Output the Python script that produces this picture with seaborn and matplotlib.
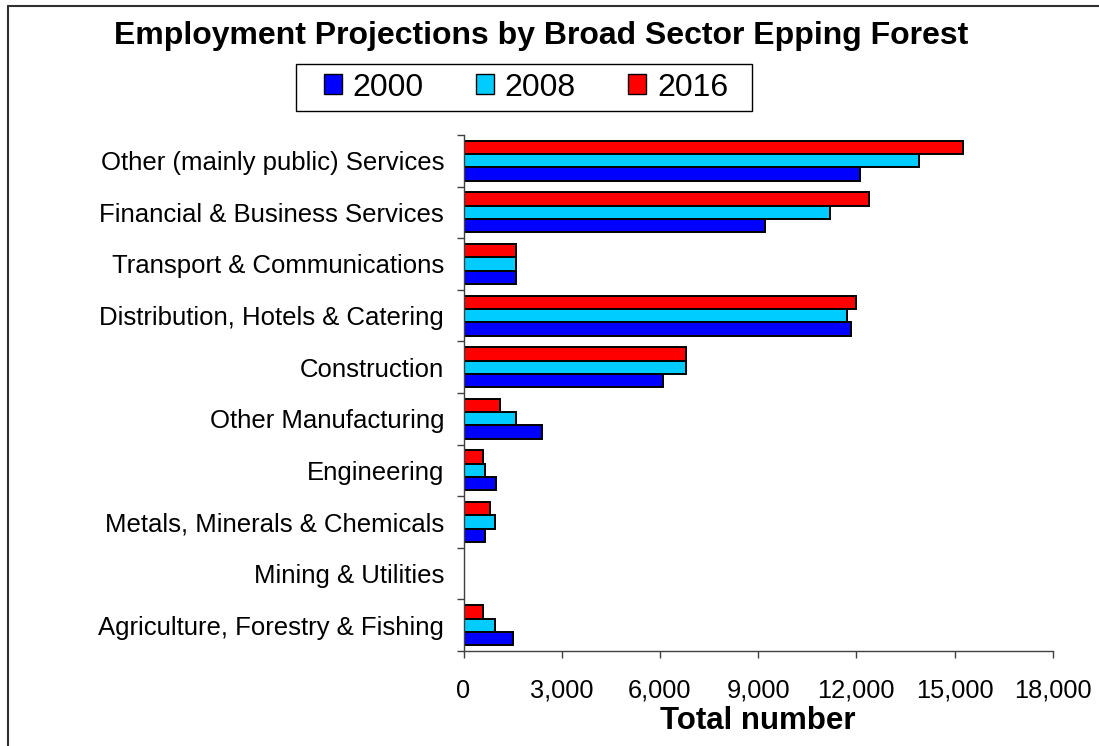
import matplotlib
matplotlib.use("Agg")
import matplotlib.pyplot as plt
import matplotlib.patches as mpatches
from matplotlib.lines import Line2D
import pandas as pd
import seaborn as sns

sectors = [
    "Other (mainly public) Services",
    "Financial & Business Services",
    "Transport & Communications",
    "Distribution, Hotels & Catering",
    "Construction",
    "Other Manufacturing",
    "Engineering",
    "Metals, Minerals & Chemicals",
    "Mining & Utilities",
    "Agriculture, Forestry & Fishing",
]
years = ["2000", "2008", "2016"]
emp_2000 = [12100, 9200, 1600, 11850, 6100, 2400, 1000, 650, 0, 1500]
emp_2008 = [13900, 11200, 1600, 11700, 6800, 1600, 650, 950, 0, 950]
emp_2016 = [15250, 12400, 1600, 12000, 6800, 1100, 600, 800, 0, 600]
colors = {"2000": "#0000FF", "2008": "#00CCFF", "2016": "#FF0000"}

df = pd.DataFrame({
    "sector": sectors * 3,
    "year": ["2000"] * 10 + ["2008"] * 10 + ["2016"] * 10,
    "value": emp_2000 + emp_2008 + emp_2016,
})

sns.set_theme(style="white")
plt.rcParams["font.family"] = ["Liberation Sans", "DejaVu Sans"]
plt.rcParams["text.color"] = "black"
plt.rcParams["axes.labelcolor"] = "black"
plt.rcParams["xtick.color"] = "black"
plt.rcParams["ytick.color"] = "black"

fig = plt.figure(figsize=(10.99, 7.46), dpi=100)
ax = fig.add_axes([463.5 / 1099, 1 - 651 / 746, (1052.8 - 463.5) / 1099, (651 - 135) / 746])

sns.barplot(data=df, y="sector", x="value", hue="year", order=sectors,
            hue_order=["2016", "2008", "2000"], palette=colors, orient="h",
            width=0.775, edgecolor="black", linewidth=1.4, ax=ax, legend=False,
            errorbar=None, saturation=1)

ax.set_xlim(0, 18000)
ax.set_ylim(len(sectors) - 0.5, -0.5)
ax.set_xticks(range(0, 18001, 3000))
ax.set_xticklabels([f"{v:,}" for v in range(0, 18001, 3000)], fontsize=18.3)
ax.tick_params(axis="x", direction="out", length=5, width=1, color="#404040", pad=15, bottom=True,
               labelcolor="black")
ax.set_yticks(range(len(sectors)))
ax.set_yticklabels(sectors, fontsize=18.5)
ax.tick_params(axis="y", which="major", length=0, pad=14, labelcolor="black")
ax.set_yticks([i - 0.5 for i in range(len(sectors) + 1)], minor=True)
ax.tick_params(axis="y", which="minor", direction="out", length=5, width=1, color="#404040", left=True)
ax.set_ylabel("")
ax.set_xlabel("Total number", fontsize=22.5, fontweight="bold", labelpad=2, color="black")

for side in ["top", "right"]:
    ax.spines[side].set_visible(False)
for side in ["left", "bottom"]:
    ax.spines[side].set_color("#404040")
    ax.spines[side].set_linewidth(1)

fig.text(0.4927, 1 - 36 / 746, "Employment Projections by Broad Sector Epping Forest",
         ha="center", va="center", fontsize=23, fontweight="bold", color="black")

# legend without its own frame, boxed by a separate rectangle
handles = [mpatches.Patch(facecolor=colors[y], edgecolor="black", linewidth=1) for y in years]
leg = fig.legend(handles, years, loc="center", bbox_to_anchor=(526 / 1099, 1 - 87.5 / 746),
                 ncol=3, fontsize=23, frameon=False,
                 handlelength=0.56, handleheight=0.56, handletextpad=0.34, columnspacing=1.64,
                 borderpad=0.3, borderaxespad=0)
for t in leg.get_texts():
    t.set_color("black")
fig.add_artist(mpatches.Rectangle((296 / 1099, 1 - 111 / 746), (752 - 296) / 1099, 47 / 746,
                                  transform=fig.transFigure, facecolor="none",
                                  edgecolor="black", linewidth=1))

# outer frame (top and left edges visible in the original crop)
fig.add_artist(Line2D([8 / 1099, 8 / 1099], [0, 1 - 6 / 746], transform=fig.transFigure,
                      color="#303030", linewidth=1.5))
fig.add_artist(Line2D([8 / 1099, 1], [1 - 6 / 746, 1 - 6 / 746], transform=fig.transFigure,
                      color="#303030", linewidth=1.5))

fig.savefig("out.png", dpi=100)
